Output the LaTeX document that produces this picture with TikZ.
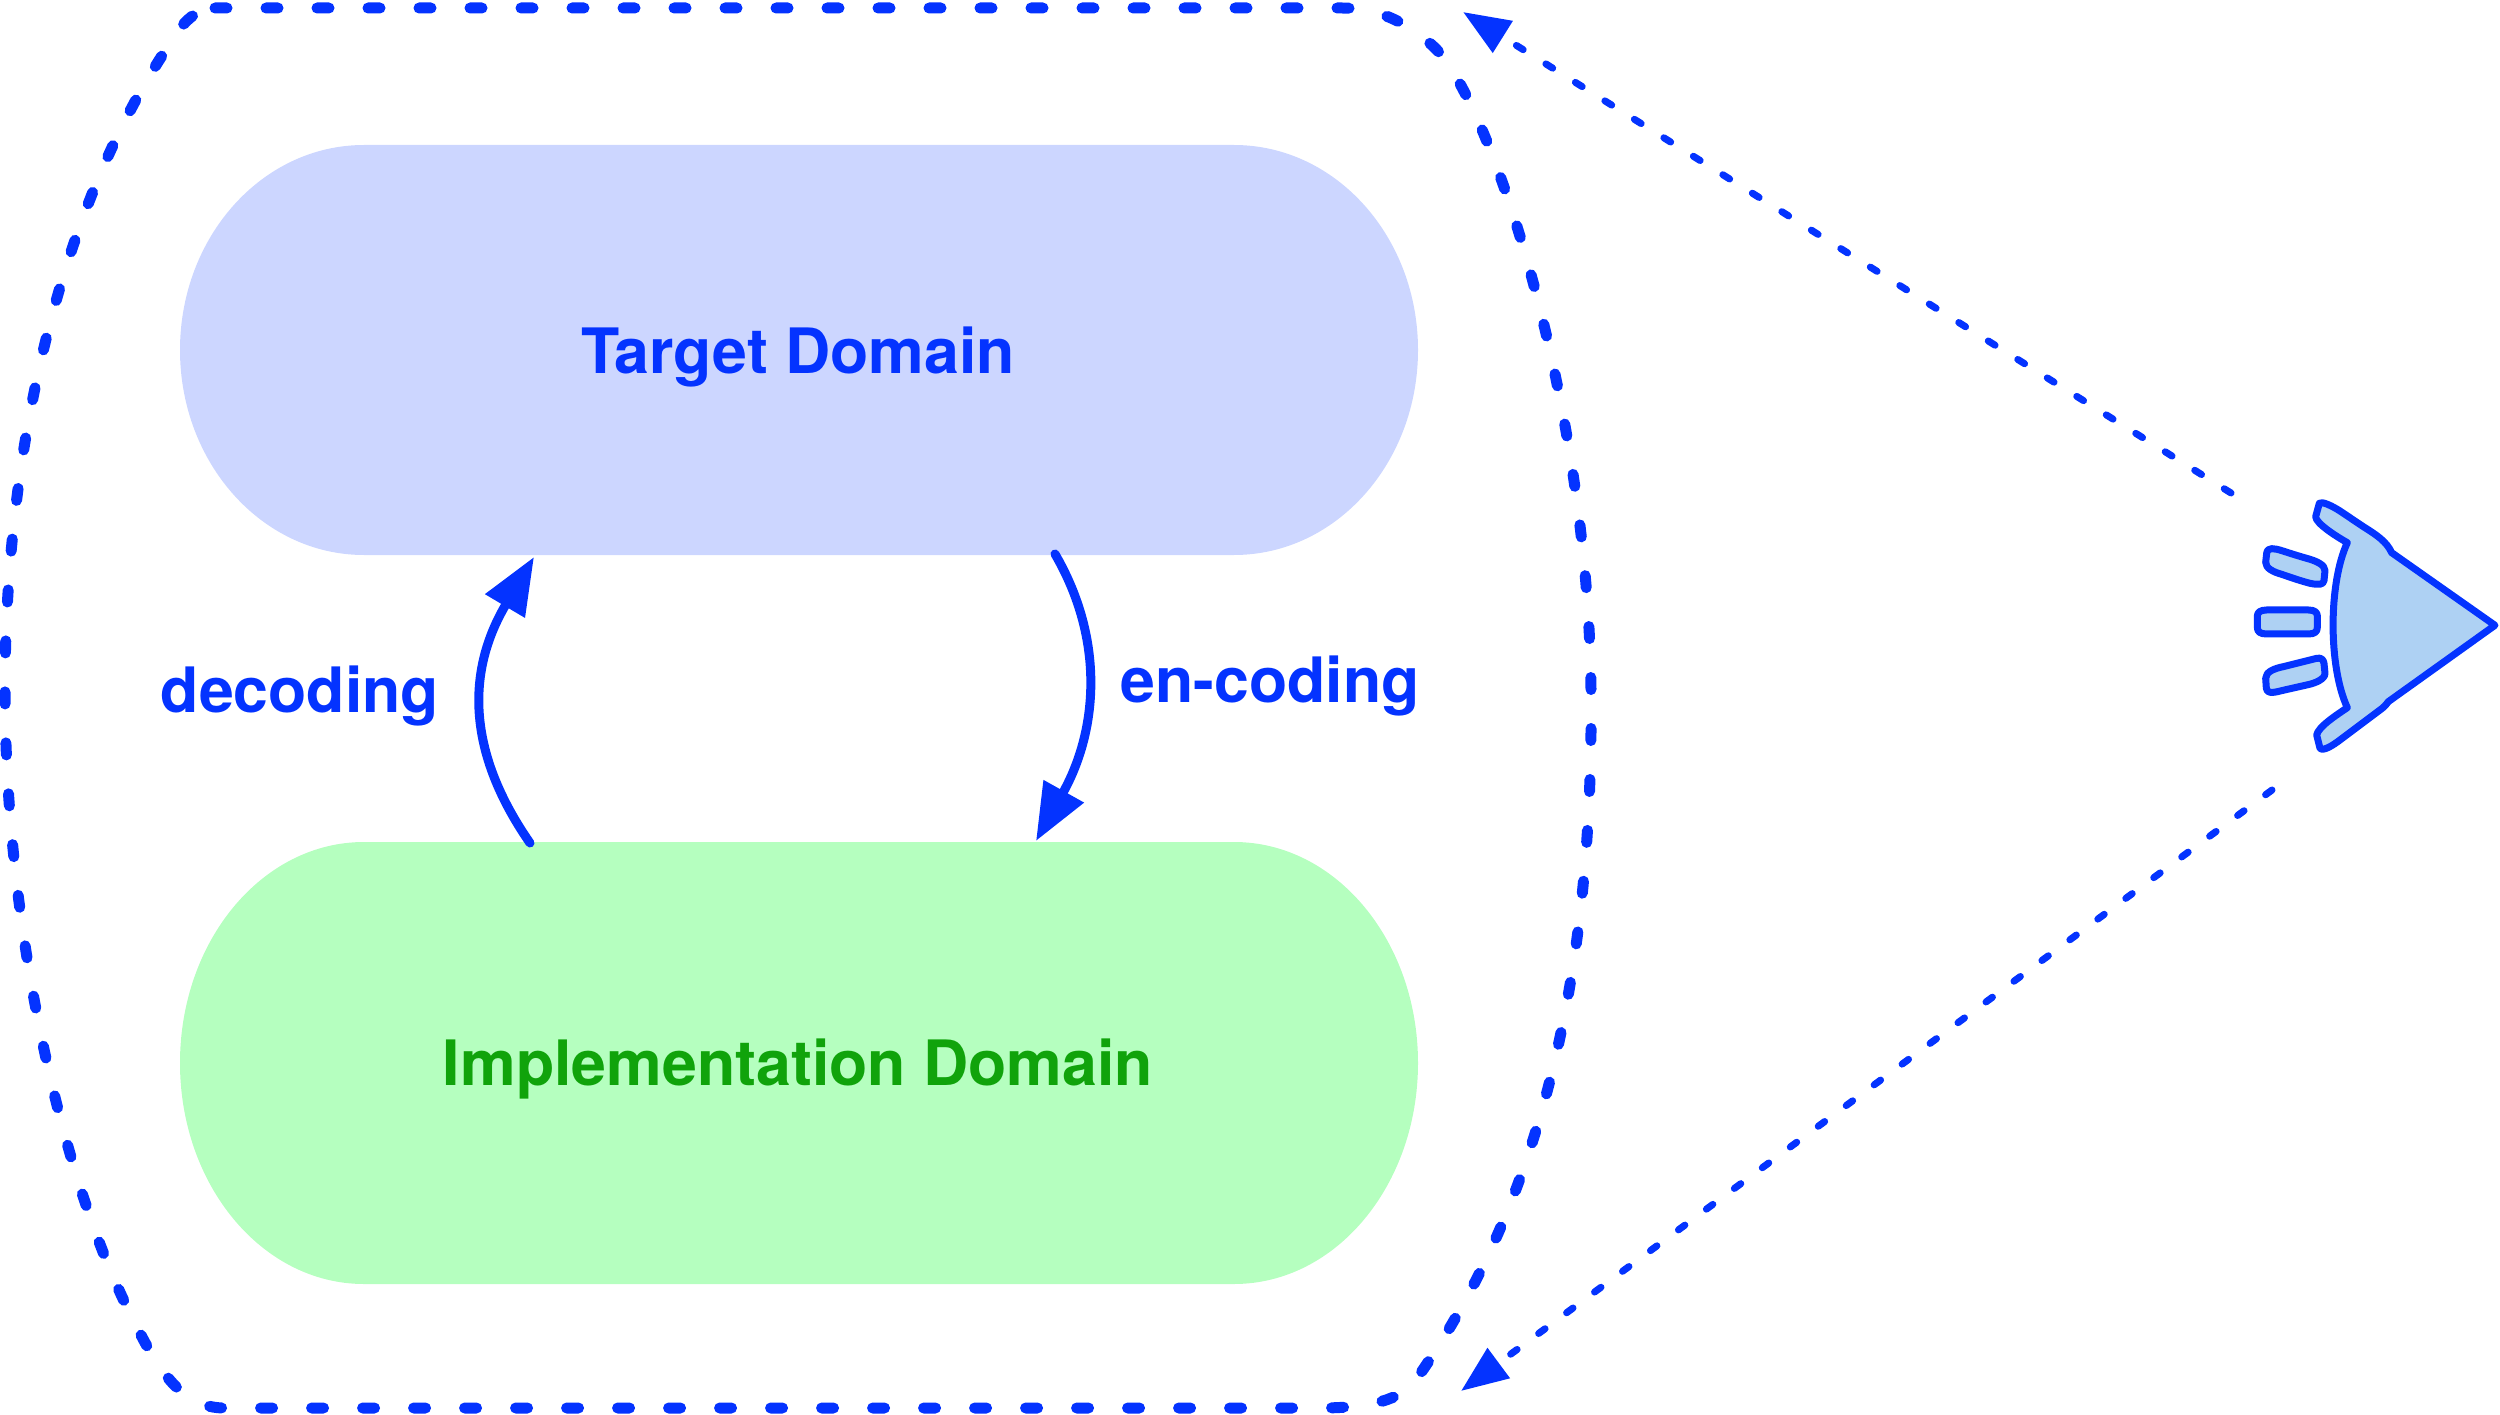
\documentclass[tikz,border=0pt]{standalone}
\usepackage{fontspec}
\setmainfont{TeX Gyre Heros}
\usetikzlibrary{arrows.meta}
\definecolor{bl}{HTML}{0433FF}
\definecolor{tfill}{HTML}{CCD6FF}
\definecolor{ifill}{HTML}{B5FFBF}
\definecolor{itxt}{HTML}{10A30B}
\definecolor{efill}{HTML}{AED1F3}
\tikzset{
  lab/.style={font=\fontsize{62.6}{70}\selectfont\bfseries,inner sep=0pt,anchor=base},
  outline/.style={draw=bl,line width=11pt,line cap=round,dash pattern=on 12pt off 39pt},
  sight/.style={draw=bl,line width=7pt,line cap=round,dash pattern=on 8pt off 26.8pt,
     -{Triangle[length=47pt,width=36pt,fill=bl]}},
  flow/.style={draw=bl,line width=9pt,line cap=round,-{Triangle[length=57pt,width=44pt,fill=bl]}},
  eyepart/.style={draw=bl,fill=efill,line width=7pt,line join=round}
}
\begin{document}
\begin{tikzpicture}[x=1pt,y=-1pt]
\useasboundingbox (0,0) rectangle (2500,1415);
% pills
\fill[tfill] (364,145) -- (1234,145) .. controls (1336,145) and (1418,237) .. (1418,350)
  .. controls (1418,463) and (1336,555) .. (1234,555) -- (364,555)
  .. controls (262,555) and (180,463) .. (180,350) .. controls (180,237) and (262,145) .. (364,145) -- cycle;
\fill[ifill] (364,842) -- (1234,842) .. controls (1336,842) and (1418,941) .. (1418,1063)
  .. controls (1418,1185) and (1336,1284) .. (1234,1284) -- (364,1284)
  .. controls (262,1284) and (180,1185) .. (180,1063) .. controls (180,941) and (262,842) .. (364,842) -- cycle;
\node[lab,text=bl] (target) at (798,373) {Target Domain};
\node[lab,text=itxt] (impl) at (798,1085) {Implementation Domain};
\node[lab,text=bl] (dec) at (300,712) {decoding};
\node[lab,text=bl] (enc) at (1270,702) {en-coding};
% outline
\draw[outline] (215,8) -- (1342,8) .. controls (1375,8) and (1405,20) .. (1434,47)
  .. controls (1490,100) and (1588,400) .. (1591,690)
  .. controls (1594,1000) and (1530,1220) .. (1413,1384)
  .. controls (1395,1402) and (1365,1408) .. (1318,1408) -- (225,1408)
  .. controls (190,1408) and (165,1385) .. (135,1323)
  .. controls (60,1180) and (5,920) .. (5,690)
  .. controls (5,450) and (60,210) .. (167,48)
  .. controls (180,25) and (195,8) .. (215,8) -- cycle;
% arrows
\coordinate (decS) at (530,843);
\coordinate (decE) at (534,557);
\coordinate (encS) at (1055,554);
\coordinate (encE) at (1036,841);
\draw[flow] (decS) .. controls (462,745) and (470,665) .. (decE);
\draw[flow] (encS) .. controls (1105,640) and (1098,730) .. (encE);
\coordinate (topS) at (2231,493);
\coordinate (topE) at (1463,12);
\coordinate (botS) at (2272,790);
\coordinate (botE) at (1461,1391);
\draw[sight] (topS) -- (topE);
\draw[sight] (botS) -- (botE);
% eye
\begin{scope}[shift={(2150,440)},x=0.3333pt,y=-0.3333pt]
\path[eyepart] (1035,556) -- (725,338) .. controls (710,305) and (680,285) .. (640,260)
  -- (570,213) .. controls (545,197) and (515,183) .. (508,190) -- (497,230)
  .. controls (497,250) and (560,290) .. (592,308)
  .. controls (535,430) and (535,680) .. (592,803)
  .. controls (560,825) and (505,860) .. (500,885) -- (510,925)
  .. controls (520,935) and (550,915) .. (570,900) -- (690,810)
  .. controls (700,803) and (708,795) .. (715,785) -- cycle;
\path[eyepart] (365,326) .. controls (385,326) and (400,335) .. (470,355)
  .. controls (500,363) and (525,375) .. (525,392) -- (522,422)
  .. controls (520,435) and (505,435) .. (480,430)
  .. controls (450,422) and (430,415) .. (395,403)
  .. controls (370,396) and (347,385) .. (347,367) -- (350,340)
  .. controls (351,330) and (358,326) .. (365,326) -- cycle;
\path[eyepart] (350,510) -- (475,510) .. controls (495,510) and (502,518) .. (502,528) -- (502,562)
  .. controls (502,575) and (495,582) .. (475,582) -- (350,582)
  .. controls (330,582) and (322,575) .. (322,562) -- (322,528)
  .. controls (322,518) and (330,510) .. (350,510) -- cycle;
\path[eyepart] (500,655) .. controls (515,652) and (520,660) .. (522,670) -- (525,700)
  .. controls (525,718) and (495,730) .. (470,735) -- (395,752)
  .. controls (365,760) and (350,760) .. (349,745) -- (347,715)
  .. controls (347,695) and (375,685) .. (400,680) -- cycle;
\end{scope}
\end{tikzpicture}
\end{document}
